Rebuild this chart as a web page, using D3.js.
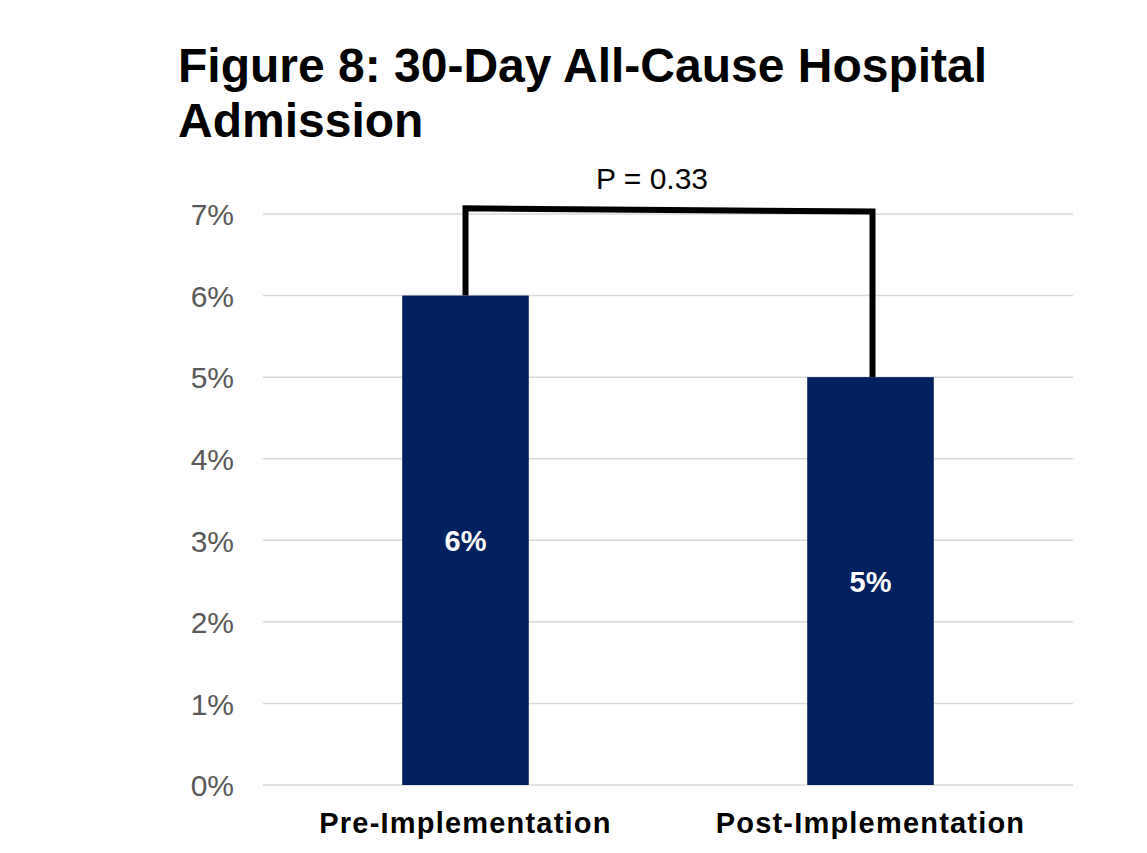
<!DOCTYPE html>
<html>
<head>
<meta charset="utf-8">
<script src="https://cdn.jsdelivr.net/npm/d3@7"></script>
<style>
  body { margin: 0; background: #fff; }
  text { font-family: "Liberation Sans", Arial, sans-serif; }
</style>
</head>
<body>
<div id="chart"></div>
<script>
// chart data
var categories = ["Pre-Implementation", "Post-Implementation"];
var values = [6, 5];               // percent
var barLabels = ["6%", "5%"];
var yTicks = [0, 1, 2, 3, 4, 5, 6, 7];
var titleLines = ["Figure 8: 30-Day All-Cause Hospital", "Admission"];
var pLabel = "P = 0.33";
var bracketTop = [7.07, 7.03];     // bracket height over each bar (percent)

function init(){
    var w = 1147, h = 853;
    var left = 263, right = 1073, top = 214, bottom = 785;

    var svg = d3.select("#chart")
                .append("svg")
                .attr("width", w)
                .attr("height", h);

    var x = d3.scaleBand()
              .domain(categories)
              .range([left, right])
              .paddingInner(0.6875)
              .paddingOuter(0.34375);

    var y = d3.scaleLinear()
              .domain([0, 7])
              .range([bottom, top]);

    // gridlines
    svg.selectAll("line.grid")
       .data(yTicks)
       .enter()
       .append("line")
       .attr("class", "grid")
       .attr("x1", left)
       .attr("x2", right)
       .attr("y1", function(d){ return y(d); })
       .attr("y2", function(d){ return y(d); })
       .attr("stroke", "#d9d9d9")
       .attr("stroke-width", 1.5);

    // y axis labels
    var yAxis = d3.axisLeft(y)
                  .tickValues(yTicks)
                  .tickFormat(function(d){ return d + "%"; })
                  .tickSize(0)
                  .tickPadding(29);
    var ya = svg.append("g")
                .attr("transform", "translate(" + left + ",0)")
                .call(yAxis);
    ya.select(".domain").remove();
    ya.selectAll("text")
      .attr("dy", "0.36em")
      .style("font-size", "30px")
      .style("fill", "#595959")
      .style("font-family", "'Liberation Sans', Arial, sans-serif");

    // bars
    svg.selectAll("rect.bar")
       .data(values)
       .enter()
       .append("rect")
       .attr("class", "bar")
       .attr("x", function(d, i){ return x(categories[i]); })
       .attr("y", function(d){ return y(d); })
       .attr("width", x.bandwidth())
       .attr("height", function(d){ return y(0) - y(d); })
       .attr("fill", "#002060");

    // labels inside bars
    svg.selectAll("text.val")
       .data(values)
       .enter()
       .append("text")
       .attr("class", "val")
       .attr("x", function(d, i){ return x(categories[i]) + x.bandwidth()/2; })
       .attr("y", function(d){ return (y(d) + y(0))/2; })
       .attr("dy", "0.36em")
       .attr("text-anchor", "middle")
       .style("font-size", "29px")
       .style("font-weight", "bold")
       .style("fill", "#fff")
       .text(function(d, i){ return barLabels[i]; });

    // category labels
    svg.selectAll("text.cat")
       .data(categories)
       .enter()
       .append("text")
       .attr("class", "cat")
       .attr("x", function(d){ return x(d) + x.bandwidth()/2; })
       .attr("y", 833)
       .attr("text-anchor", "middle")
       .style("font-size", "29px")
       .style("font-weight", "bold")
       .style("letter-spacing", "1.2px")
       .style("fill", "#000")
       .text(function(d){ return d; });

    // significance bracket
    var cx = categories.map(function(c){ return x(c) + x.bandwidth()/2; });
    var pts = [
        [cx[0], y(values[0])],
        [cx[0], y(bracketTop[0])],
        [cx[1] + 2, y(bracketTop[1])],
        [cx[1] + 2, y(values[1])]
    ];
    svg.append("path")
       .attr("d", d3.line()(pts))
       .attr("fill", "none")
       .attr("stroke", "#000")
       .attr("stroke-width", 6)
       .attr("stroke-linejoin", "miter");

    // p-value label sits a little left of the bracket middle
    svg.append("text")
       .attr("x", (cx[0] + cx[1])/2 - 16)
       .attr("y", 189)
       .attr("text-anchor", "middle")
       .style("font-size", "30px")
       .style("fill", "#000")
       .text(pLabel);

    // title
    svg.selectAll("text.title")
       .data(titleLines)
       .enter()
       .append("text")
       .attr("class", "title")
       .attr("x", 178)
       .attr("y", function(d, i){ return 82 + i*55; })
       .style("font-size", "48px")
       .style("font-weight", "bold")
       .style("fill", "#000")
       .text(function(d){ return d; });
}
window.onload = init;
</script>
</body>
</html>
